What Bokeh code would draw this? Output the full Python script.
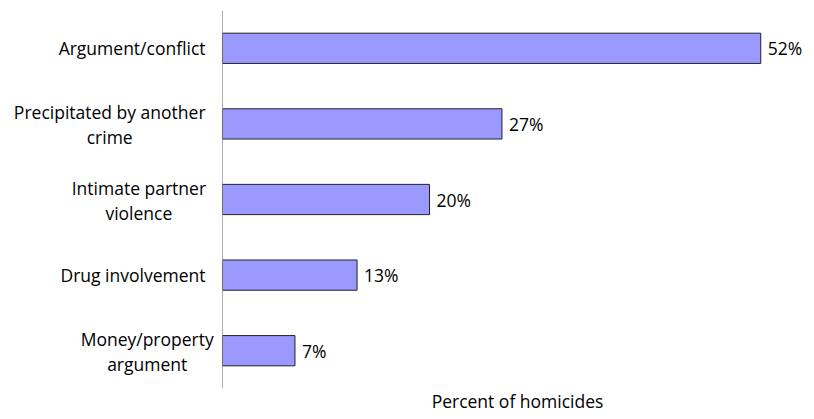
from bokeh.plotting import figure
from bokeh.layouts import row
from bokeh.models import FactorRange, Range1d, ColumnDataSource, Span, FixedTicker
from bokeh.core.properties import value
from bokeh.embed import file_html
from bokeh.resources import INLINE

categories = ["Argument/conflict", "Precipitated by another crime", "Intimate partner violence",
              "Drug involvement", "Money/property argument"]
tick_lines = [["Argument/conflict"], ["Precipitated by another", "crime"],
              ["Intimate partner", "violence"], ["Drug involvement"],
              ["Money/property", "argument"]]
percents = [52, 27, 20, 13, 7]
value_labels = [f"{v}%" for v in percents]
x_title = "Percent of homicides"

FONT = "Open Sans"
FSIZE = "17.5px"
H = 418
TOP = 10
BOTTOM = 30

factors = categories[::-1]
y_range = FactorRange(factors=factors)

# ---- label panel (left) ----
lab = figure(width=222, height=H, output_backend="svg", toolbar_location=None,
             y_range=y_range, x_range=Range1d(0, 1),
             min_border_left=0, min_border_right=0, min_border_top=TOP, min_border_bottom=BOTTOM)
lab.outline_line_color = None
lab.grid.visible = False
lab.axis.visible = False
for cat, lines in zip(categories, tick_lines):
    if len(lines) == 1:
        lab.text(x=[1], y=[cat], text=[lines[0]], x_offset=-17, text_align="right",
                 text_baseline="middle", text_font=value(FONT), text_font_size=FSIZE,
                 text_color="#000000")
    else:
        longest = max(len(s) for s in lines)
        cx = -17 - longest * 8.33 / 2
        for i, line in enumerate(lines):
            lab.text(x=[1], y=[cat], text=[line], x_offset=cx, y_offset=-12 + 25 * i,
                     text_align="center", text_baseline="middle", text_font=value(FONT),
                     text_font_size=FSIZE, text_color="#000000")

# ---- bar chart ----
src = ColumnDataSource(dict(cat=categories, val=percents, lab=value_labels))
p = figure(width=590, height=H, output_backend="svg", toolbar_location=None,
           y_range=y_range, x_range=Range1d(0, 57.0),
           min_border_left=0, min_border_right=0, min_border_top=TOP, min_border_bottom=BOTTOM)
p.outline_line_color = None
p.grid.visible = False
p.yaxis.visible = False

p.hbar(y="cat", right="val", left=0, height=0.4, source=src,
       fill_color="#9999FF", line_color="#222222", line_width=1)
p.text(x="val", y="cat", text="lab", source=src, x_offset=7, text_baseline="middle",
       text_align="left", text_font=value(FONT), text_font_size=FSIZE, text_color="#000000")
p.add_layout(Span(location=0, dimension="height", line_color="#5f5f5f", line_width=1))

xa = p.xaxis[0]
xa.ticker = FixedTicker(ticks=[])
xa.axis_line_color = None
xa.major_tick_line_color = None
xa.minor_tick_line_color = None
xa.axis_label = x_title
xa.axis_label_text_font = FONT
xa.axis_label_text_font_size = FSIZE
xa.axis_label_text_font_style = "normal"
xa.axis_label_text_color = "#000000"
xa.axis_label_standoff = 0

layout = row(lab, p, spacing=0)
open("out.html", "w").write(file_html(layout, INLINE))
